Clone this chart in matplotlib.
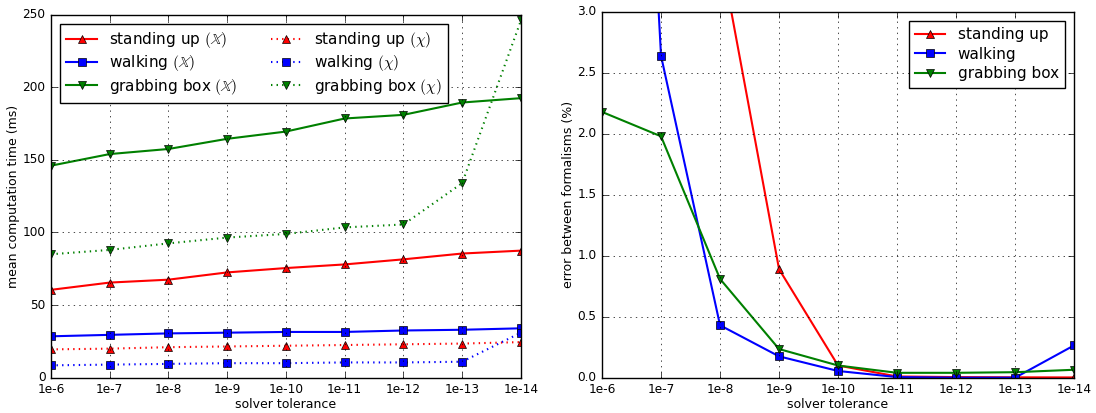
import matplotlib
matplotlib.use("Agg")
import matplotlib.pyplot as plt

plt.style.use('classic')
plt.rcParams['mathtext.fontset'] = 'cm'

# solver tolerances (x axis)
TOLERANCES = ['1e-6', '1e-7', '1e-8', '1e-9', '1e-10', '1e-11', '1e-12', '1e-13', '1e-14']

# mean computation time (ms), X formalism
STAND_X = [60.5, 65.5, 67.5, 72.5, 75.5, 78, 81.5, 85.5, 87.5]
WALK_X = [28.5, 29.5, 30.5, 31, 31.5, 31.5, 32.5, 33, 34]
GRAB_X = [146, 154, 157.5, 164.5, 169.5, 178.5, 181, 189.5, 192.5]

# mean computation time (ms), chi formalism
STAND_CHI = [19.5, 20, 21, 21.5, 22, 22.5, 23, 23.5, 24.5]
WALK_CHI = [8.5, 9, 9.5, 10, 10, 10.5, 10.5, 11, 31]
GRAB_CHI = [85, 88, 92.5, 96.5, 99, 103.5, 105.5, 134, 246]

# error between formalisms (%)
STAND_ERR = [12.0, 8.0, 3.5, 0.89, 0.1, 0.01, 0.005, 0.003, 0.002]
WALK_ERR = [11.6, 2.64, 0.43, 0.175, 0.055, 0.005, 0.0, 0.0, 0.265]
GRAB_ERR = [2.18, 1.98, 0.81, 0.235, 0.1, 0.04, 0.04, 0.045, 0.065]

TICK_FS = 8.7
LABEL_FS = 9
LEGEND_FS = 11
LW = 1.5
MS = 5.5

x = range(len(TOLERANCES))

fig = plt.figure(figsize=(10.96, 4.13), dpi=100)
fig.patch.set_facecolor('white')

ax1 = fig.add_axes([0.0465, 0.0855, 0.4288, 0.879])
ax1.plot(x, STAND_X, 'r-^', lw=LW, ms=MS, label=r'standing up $(\mathbb{X})$')
ax1.plot(x, WALK_X, 'b-s', lw=LW, ms=MS, label=r'walking $(\mathbb{X})$')
ax1.plot(x, GRAB_X, 'g-v', lw=LW, ms=MS, label=r'grabbing box $(\mathbb{X})$')
ax1.plot(x, STAND_CHI, 'r:^', lw=LW, ms=MS, label=r'standing up $(\chi)$')
ax1.plot(x, WALK_CHI, 'b:s', lw=LW, ms=MS, label=r'walking $(\chi)$')
ax1.plot(x, GRAB_CHI, 'g:v', lw=LW, ms=MS, label=r'grabbing box $(\chi)$')
ax1.set_xlim(0, len(TOLERANCES) - 1)
ax1.set_ylim(0, 250)
ax1.set_xticks(list(x))
ax1.set_xticklabels(TOLERANCES)
ax1.set_xlabel('solver tolerance', fontsize=LABEL_FS, labelpad=1)
ax1.set_ylabel('mean computation time (ms)', fontsize=LABEL_FS, labelpad=2)
ax1.tick_params(labelsize=TICK_FS)
ax1.grid(True)
ax1.legend(loc='upper left', ncol=2, numpoints=1, fontsize=LEGEND_FS,
           fancybox=False, borderaxespad=0.6, handlelength=2.0,
           handletextpad=0.8, columnspacing=2.2, labelspacing=0.22)

ax2 = fig.add_axes([0.5493, 0.0855, 0.4307, 0.8855])
ax2.plot(x, STAND_ERR, 'r-^', lw=LW, ms=MS, label='standing up')
ax2.plot(x, WALK_ERR, 'b-s', lw=LW, ms=MS, label='walking')
ax2.plot(x, GRAB_ERR, 'g-v', lw=LW, ms=MS, label='grabbing box')
ax2.set_xlim(0, len(TOLERANCES) - 1)
ax2.set_ylim(0, 3.0)
ax2.set_xticks(list(x))
ax2.set_xticklabels(TOLERANCES)
ax2.set_xlabel('solver tolerance', fontsize=LABEL_FS, labelpad=1)
ax2.set_ylabel('error between formalisms (%)', fontsize=LABEL_FS, labelpad=2)
ax2.tick_params(labelsize=TICK_FS)
ax2.grid(True)
ax2.legend(loc='upper right', numpoints=1, fontsize=LEGEND_FS,
           fancybox=False, borderaxespad=0.6, handlelength=2.0,
           handletextpad=0.8, labelspacing=0.3)

fig.savefig('out.png', dpi=100, facecolor='white')
